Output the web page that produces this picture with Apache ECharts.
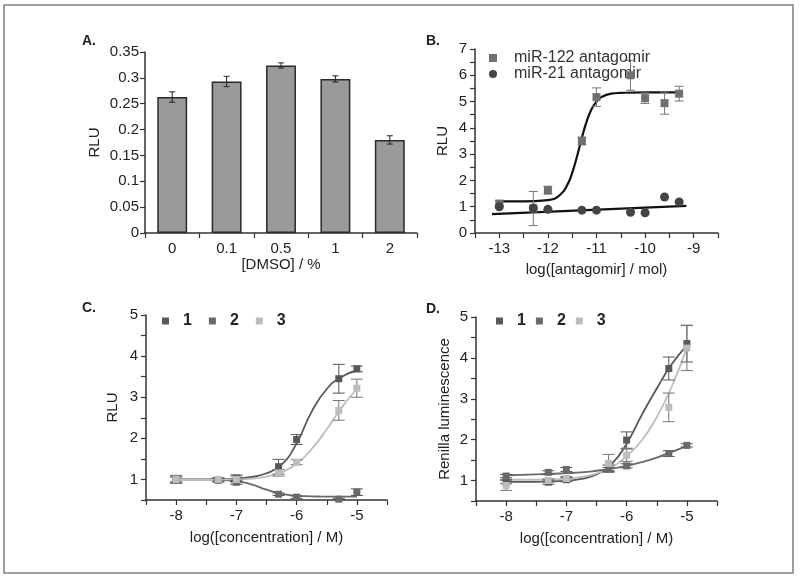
<!DOCTYPE html>
<html>
<head>
<meta charset="utf-8">
<script src="https://cdn.jsdelivr.net/npm/echarts@6/dist/echarts.min.js"></script>
<style>
html,body{margin:0;padding:0;background:#fff;}
#chart{width:800px;height:579px;}
</style>
</head>
<body>
<div id="chart"></div>
<script>
// ---------- Panel A ----------
const aCats = ['0', '0.1', '0.5', '1', '2'];
const aVals = [0.263, 0.293, 0.324, 0.298, 0.180];
const aErr  = [0.010, 0.010, 0.005, 0.006, 0.008];

// ---------- Panel B ----------
const bX      = [-13, -12.3, -12, -11.3, -11, -10.3, -10, -9.6, -9.3];
const b122    = [1.12, 0.93, 1.63, 3.50, 5.17, 6.00, 5.13, 4.94, 5.30];
const b122Err = [0.10, 0.65, 0.15, 0.15, 0.35, 0.57, 0.20, 0.42, 0.28];
const b21     = [1.00, 0.95, 0.90, 0.87, 0.87, 0.79, 0.77, 1.37, 1.18];
const bFitX   = [-13, -12.5, -12, -11.75, -11.6, -11.5, -11.4, -11.3, -11.2, -11.1, -11, -10.9, -10.7, -10.5, -10, -9.3];
const bFit122 = [1.20, 1.20, 1.25, 1.45, 1.83, 2.29, 2.92, 3.63, 4.26, 4.72, 5.00, 5.17, 5.30, 5.33, 5.35, 5.35];
const bFit21X = [-13.15, -9.15];
const bFit21  = [0.72, 1.03];

// ---------- Panel C ----------
const cX    = [-8, -7.3, -7, -6.3, -6, -5.3, -5];
const c1    = [1.00, 0.99, 1.03, 1.31, 1.97, 3.45, 3.69];
const c1Err = [0.08, 0.05, 0.08, 0.18, 0.12, 0.35, 0.07];
const c2    = [1.00, 0.98, 0.93, 0.64, 0.57, 0.52, 0.69];
const c2Err = [0.06, 0.04, 0.05, 0.03, 0.03, 0.02, 0.08];
const c3    = [1.00, 1.00, 1.00, 1.16, 1.42, 2.68, 3.22];
const c3Err = [0.10, 0.04, 0.08, 0.08, 0.06, 0.24, 0.22];
const cFitX = [-8, -7.5, -7, -6.75, -6.5, -6.25, -6, -5.75, -5.5, -5.25, -5];
const cFit1 = [1.00, 1.00, 1.02, 1.06, 1.15, 1.36, 1.88, 2.65, 3.20, 3.50, 3.65];
const cFit2 = [1.00, 1.00, 0.96, 0.88, 0.75, 0.65, 0.60, 0.59, 0.58, 0.58, 0.58];
const cFit3 = [1.00, 1.00, 1.00, 1.02, 1.07, 1.17, 1.38, 1.74, 2.22, 2.76, 3.20];

// ---------- Panel D ----------
const dX    = [-8, -7.3, -7, -6.3, -6, -5.3, -5];
const d1    = [0.97, 0.96, 1.02, 1.30, 1.99, 3.74, 4.35];
const d1Err = [0.05, 0.05, 0.05, 0.08, 0.20, 0.28, 0.45];
const d2    = [1.11, 1.20, 1.27, 1.28, 1.36, 1.66, 1.86];
const d2Err = [0.04, 0.04, 0.05, 0.04, 0.05, 0.07, 0.04];
const d3    = [0.88, 1.00, 1.05, 1.42, 1.62, 2.79, 4.24];
const d3Err = [0.12, 0.04, 0.05, 0.22, 0.15, 0.35, 0.55];
const dFitX = [-8, -7.5, -7, -6.75, -6.5, -6.25, -6, -5.75, -5.5, -5.25, -5];
const dFit1 = [0.97, 0.97, 0.99, 1.04, 1.15, 1.40, 1.90, 2.60, 3.25, 3.85, 4.30];
const dFit2 = [1.13, 1.15, 1.18, 1.20, 1.24, 1.29, 1.36, 1.45, 1.56, 1.70, 1.85];
const dFit3 = [1.02, 1.02, 1.04, 1.09, 1.17, 1.32, 1.60, 1.98, 2.55, 3.30, 4.25];

// ---------- helpers ----------
const FONT = 'Liberation Sans, Arial, Helvetica, sans-serif';
const TXT = '#222';
const AX = '#333';
const zip = (xs, ys) => xs.map((x, i) => [x, ys[i]]);
const zip3 = (xs, ys, es) => xs.map((x, i) => [x, ys[i], es[i]]);

function errSeries(name, idx, data, color, cap, lw) {
  return {
    type: 'custom', name: name, xAxisIndex: idx, yAxisIndex: idx, data: data, z: 3,
    renderItem: function (params, api) {
      const x = api.value(0), y = api.value(1), e = api.value(2);
      const t = api.coord([x, y + e]);
      const b = api.coord([x, y - e]);
      const st = { stroke: color, lineWidth: lw || 1 };
      return {
        type: 'group', children: [
          { type: 'line', shape: { x1: t[0], y1: t[1], x2: b[0], y2: b[1] }, style: st },
          { type: 'line', shape: { x1: t[0] - cap / 2, y1: t[1], x2: t[0] + cap / 2, y2: t[1] }, style: st },
          { type: 'line', shape: { x1: b[0] - cap / 2, y1: b[1], x2: b[0] + cap / 2, y2: b[1] }, style: st }
        ]
      };
    }
  };
}
function intLabel(v) { return Math.abs(v - Math.round(v)) < 1e-6 ? String(Math.round(v)) : ''; }
function valueAxis(idx, min, max, interval, extra) {
  return Object.assign({
    type: 'value', gridIndex: idx, min: min, max: max, interval: interval,
    splitLine: { show: false },
    axisLine: { show: true, onZero: false, lineStyle: { color: AX, width: 1.5 } },
    axisTick: { show: true, length: 5, lineStyle: { color: AX, width: 1.2 } },
    axisLabel: { color: TXT, fontSize: 15, fontFamily: FONT, formatter: intLabel },
    nameTextStyle: { color: TXT, fontSize: 15, fontFamily: FONT },
    nameLocation: 'middle'
  }, extra || {});
}
function scatter(name, idx, data, color, symbol, size) {
  return { type: 'scatter', name: name, xAxisIndex: idx, yAxisIndex: idx, data: data,
    symbol: symbol, symbolSize: size, itemStyle: { color: color, opacity: 1 }, z: 4 };
}
function fitLine(name, idx, data, color, w) {
  return { type: 'line', name: name, xAxisIndex: idx, yAxisIndex: idx, data: data,
    smooth: 0.5, showSymbol: false, symbol: 'none',
    lineStyle: { color: color, width: w }, itemStyle: { color: color }, z: 2 };
}

const COL1 = '#585858', COL2 = '#6a6a6a', COL3 = '#bdbdbd';

const option = {
  animation: false,
  backgroundColor: '#fff',
  textStyle: { fontFamily: FONT },
  grid: [
    { left: 145, top: 52, width: 272, height: 181 },
    { left: 475, top: 49, width: 243, height: 184 },
    { left: 146, top: 315, width: 241, height: 185 },
    { left: 476, top: 317, width: 241, height: 184 }
  ],
  xAxis: [
    {
      type: 'category', gridIndex: 0, data: aCats,
      axisLine: { lineStyle: { color: AX, width: 1.5 } },
      axisTick: { show: true, length: 5, lineStyle: { color: AX, width: 1.2 } },
      axisLabel: { color: TXT, fontSize: 15, fontFamily: FONT, margin: 8 },
      name: '[DMSO] / %', nameLocation: 'middle', nameGap: 21,
      nameTextStyle: { color: TXT, fontSize: 15, fontFamily: FONT }
    },
    valueAxis(1, -13.5, -8.5, 0.5, { name: 'log([antagomir] / mol)', nameGap: 29 }),
    valueAxis(2, -8.5, -4.5, 0.5, { name: 'log([concentration] / M)', nameGap: 30 }),
    valueAxis(3, -8.5, -4.5, 0.5, { name: 'log([concentration] / M)', nameGap: 30 })
  ],
  yAxis: [
    valueAxis(0, 0, 0.35, 0.05, { name: 'RLU', nameGap: 43,
      axisLabel: { color: TXT, fontSize: 15, fontFamily: FONT, margin: 6 } }),
    valueAxis(1, 0, 7, 0.5, { name: 'RLU', nameGap: 25 }),
    valueAxis(2, 0.5, 5, 0.5, { name: 'RLU', nameGap: 26 }),
    valueAxis(3, 0.5, 5, 0.5, { name: 'Renilla luminescence', nameGap: 24 })
  ],
  legend: [
    {
      orient: 'vertical', left: 484, top: 45, itemWidth: 8, itemHeight: 8, itemGap: 0,
      data: [{ name: 'miR-122 antagomir', icon: 'rect' }, { name: 'miR-21 antagomir', icon: 'circle' }],
      textStyle: { color: '#333', fontSize: 16, fontFamily: FONT, lineHeight: 13, padding: [0, 0, 0, 12] },
      selectedMode: false
    },
    {
      orient: 'horizontal', left: 157, top: 308, itemWidth: 7, itemHeight: 7, itemGap: 17,
      data: [{ name: '1', icon: 'rect' }, { name: '2', icon: 'rect' }, { name: '3', icon: 'rect' }],
      textStyle: { color: '#222', fontSize: 16, fontWeight: 'bold', fontFamily: FONT, lineHeight: 16, padding: [0, 0, 0, 9] },
      selectedMode: false
    },
    {
      orient: 'horizontal', left: 491, top: 308, itemWidth: 7, itemHeight: 7, itemGap: 10,
      data: [{ name: '1', icon: 'rect' }, { name: '2', icon: 'rect' }, { name: '3', icon: 'rect' }],
      textStyle: { color: '#222', fontSize: 16, fontWeight: 'bold', fontFamily: FONT, lineHeight: 16, padding: [0, 0, 0, 9] },
      selectedMode: false
    }
  ],
  graphic: [
    { type: 'rect', shape: { x: 4, y: 5, width: 789, height: 568 }, style: { fill: 'none', stroke: '#808080', lineWidth: 1.5 }, silent: true },
    { type: 'text', left: 82, top: 34, style: { text: 'A.', font: 'bold 14px ' + FONT, fill: '#222' } },
    { type: 'text', left: 426, top: 34, style: { text: 'B.', font: 'bold 14px ' + FONT, fill: '#222' } },
    { type: 'text', left: 82, top: 301, style: { text: 'C.', font: 'bold 14px ' + FONT, fill: '#222' } },
    { type: 'text', left: 426, top: 302, style: { text: 'D.', font: 'bold 14px ' + FONT, fill: '#222' } }
  ],
  series: [
    // Panel A
    { type: 'bar', name: 'DMSO', xAxisIndex: 0, yAxisIndex: 0, data: aVals, barWidth: '55%',
      itemStyle: { color: '#9a9a9c', borderColor: '#2a2a2a', borderWidth: 1.5 } },
    errSeries('aErr', 0, aCats.map((c, i) => [i, aVals[i], aErr[i]]), '#222', 6, 1),

    // Panel B
    fitLine('bFit122', 1, zip(bFitX, bFit122), '#111', 2.2),
    fitLine('bFit21', 1, zip(bFit21X, bFit21), '#111', 2.2),
    errSeries('b122Err', 1, zip3(bX, b122, b122Err), '#777', 9, 1),
    scatter('miR-122 antagomir', 1, zip(bX, b122), '#707070', 'rect', 8),
    scatter('miR-21 antagomir', 1, zip(bX, b21), '#444444', 'circle', 9),

    // Panel C
    fitLine('cFit1', 2, zip(cFitX, cFit1), COL1, 1.8),
    fitLine('cFit2', 2, zip(cFitX, cFit2), COL2, 1.8),
    fitLine('cFit3', 2, zip(cFitX, cFit3), COL3, 1.8),
    errSeries('c1Err', 2, zip3(cX, c1, c1Err), '#555', 12, 1),
    errSeries('c2Err', 2, zip3(cX, c2, c2Err), '#555', 12, 1),
    errSeries('c3Err', 2, zip3(cX, c3, c3Err), '#777', 12, 1),
    scatter('1', 2, zip(cX, c1), COL1, 'rect', 7),
    scatter('2', 2, zip(cX, c2), COL2, 'rect', 7),
    scatter('3', 2, zip(cX, c3), COL3, 'rect', 7),

    // Panel D
    fitLine('dFit1', 3, zip(dFitX, dFit1), COL1, 1.8),
    fitLine('dFit2', 3, zip(dFitX, dFit2), COL2, 1.8),
    fitLine('dFit3', 3, zip(dFitX, dFit3), COL3, 1.8),
    errSeries('d1Err', 3, zip3(dX, d1, d1Err), '#555', 12, 1),
    errSeries('d2Err', 3, zip3(dX, d2, d2Err), '#555', 12, 1),
    errSeries('d3Err', 3, zip3(dX, d3, d3Err), '#777', 12, 1),
    scatter('1', 3, zip(dX, d1), COL1, 'rect', 7),
    scatter('2', 3, zip(dX, d2), COL2, 'rect', 7),
    scatter('3', 3, zip(dX, d3), COL3, 'rect', 7)
  ]
};

const chart = echarts.init(document.getElementById('chart'), null, { renderer: 'canvas' });
chart.setOption(option);
</script>
</body>
</html>
